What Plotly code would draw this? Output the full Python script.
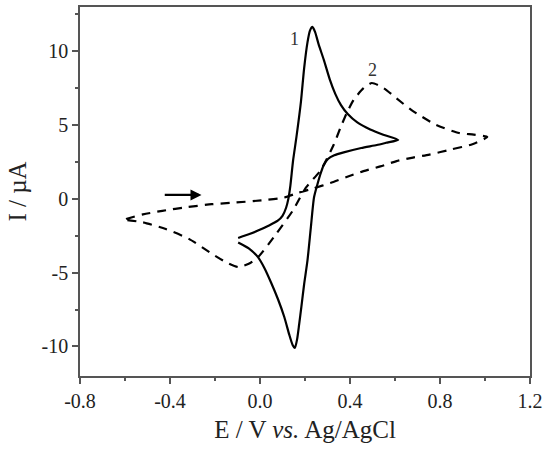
import plotly.graph_objects as go

# Curve 1 (solid) potential (V) and current (uA)
e1 = [-0.097, -0.05, -0.009, 0.04, 0.079, 0.10, 0.116, 0.126, 0.135, 0.147, 0.162, 0.182, 0.196, 0.211,
      0.222, 0.233, 0.245, 0.26, 0.284, 0.31, 0.335, 0.36, 0.39, 0.431, 0.49, 0.548, 0.614,
      0.56, 0.519, 0.45, 0.372, 0.33, 0.302, 0.282, 0.268, 0.255, 0.24, 0.226, 0.211,
      0.196, 0.184, 0.174, 0.165, 0.155, 0.145, 0.13, 0.108, 0.08, 0.05, 0.02, -0.009, -0.05, -0.097]
i1 = [-2.65, -2.4, -2.15, -1.8, -1.48, -1.15, -0.6, 0.0, 0.9, 2.6, 4.2, 6.59, 8.83, 10.6,
      11.4, 11.65, 11.3, 10.5, 9.4, 8.1, 7.1, 6.35, 5.75, 5.2, 4.7, 4.35, 4.0,
      3.8, 3.65, 3.45, 3.15, 2.95, 2.7, 2.25, 1.65, 0.98, 0.09, -1.93, -4.17,
      -5.8, -7.3, -8.5, -9.5, -10.1, -9.9, -9.2, -8.0, -6.8, -5.7, -4.7, -3.95, -3.35, -2.95]

# Curve 2 (dashed)
e2 = [-0.60, -0.595, -0.52, -0.434, -0.32, -0.214, -0.111, 0.006, 0.108, 0.167, 0.24, 0.313, 0.385,
      0.46, 0.535, 0.607, 0.68, 0.753, 0.85, 0.944, 1.01,
      0.95, 0.885, 0.782, 0.672, 0.607, 0.55, 0.497, 0.46, 0.416, 0.385, 0.357, 0.328, 0.27,
      0.204, 0.145, 0.072, -0.009, -0.05, -0.097, -0.15, -0.214, -0.316, -0.419, -0.521, -0.595, -0.60]
i2 = [-1.45, -1.37, -1.05, -0.81, -0.55, -0.36, -0.25, -0.1, 0.09, 0.4, 0.72, 1.08, 1.48,
      1.88, 2.2, 2.56, 2.8, 3.0, 3.35, 3.7, 4.2,
      4.35, 4.46, 5.02, 6.03, 6.81, 7.5, 7.85, 7.5, 6.7, 5.8, 4.8, 3.68, 1.95,
      0.76, -0.81, -2.37, -3.95, -4.4, -4.62, -4.3, -3.72, -2.71, -2.04, -1.59, -1.43, -1.45]

x_ticks = [-0.8, -0.4, 0.0, 0.4, 0.8, 1.2]
x_tick_labels = ["-0.8", "-0.4", "0.0", "0.4", "0.8", "1.2"]
y_ticks = [-10, -5, 0, 5, 10]
y_tick_labels = ["-10", "-5", "0", "5", "10"]

FONT = "Liberation Serif"

fig = go.Figure()
fig.add_trace(go.Scatter(x=e1, y=i1, mode="lines", line=dict(color="black", width=2.2, shape="spline", smoothing=0.6),
                         showlegend=False))
fig.add_trace(go.Scatter(x=e2, y=i2, mode="lines", line=dict(color="black", width=2.2, dash="9px,7px", shape="spline", smoothing=0.6),
                         showlegend=False))

fig.add_annotation(x=-0.26, y=0.27, ax=-0.43, ay=0.27, xref="x", yref="y", axref="x", ayref="y",
                   showarrow=True, arrowhead=2, arrowsize=1, arrowwidth=2.2, arrowcolor="black", text="")
fig.add_annotation(x=0.155, y=10.85, text="1", showarrow=False, font=dict(family=FONT, size=18, color="#333"))
fig.add_annotation(x=0.50, y=8.75, text="2", showarrow=False, font=dict(family=FONT, size=18, color="#333"))

axis_common = dict(showline=True, linecolor="#555", linewidth=1.5, mirror=True, showgrid=False, zeroline=False,
                   ticks="outside", ticklen=6, tickwidth=1.5, tickcolor="#555",
                   tickfont=dict(family=FONT, size=20, color="#222"))

fig.update_xaxes(range=[-0.8, 1.2], tickvals=x_ticks, ticktext=x_tick_labels,
                 minor=dict(dtick=0.2, tick0=-0.8, ticks="outside", ticklen=3, tickwidth=1.5, tickcolor="#555"),
                 title=dict(text="E / V <i>vs.</i> Ag/AgCl", font=dict(family=FONT, size=25, color="#222"), standoff=10),
                 **axis_common)
fig.update_yaxes(range=[-12, 13], tickvals=y_ticks, ticktext=y_tick_labels,
                 minor=dict(dtick=2.5, tick0=0, ticks="outside", ticklen=3, tickwidth=1.5, tickcolor="#555"),
                 title=dict(text="I / µA", font=dict(family=FONT, size=25, color="#222"), standoff=8),
                 **axis_common)

fig.update_layout(width=548, height=451, margin=dict(l=80, r=13, t=5, b=75),
                  plot_bgcolor="white", paper_bgcolor="white")

fig.write_html("out.html")
